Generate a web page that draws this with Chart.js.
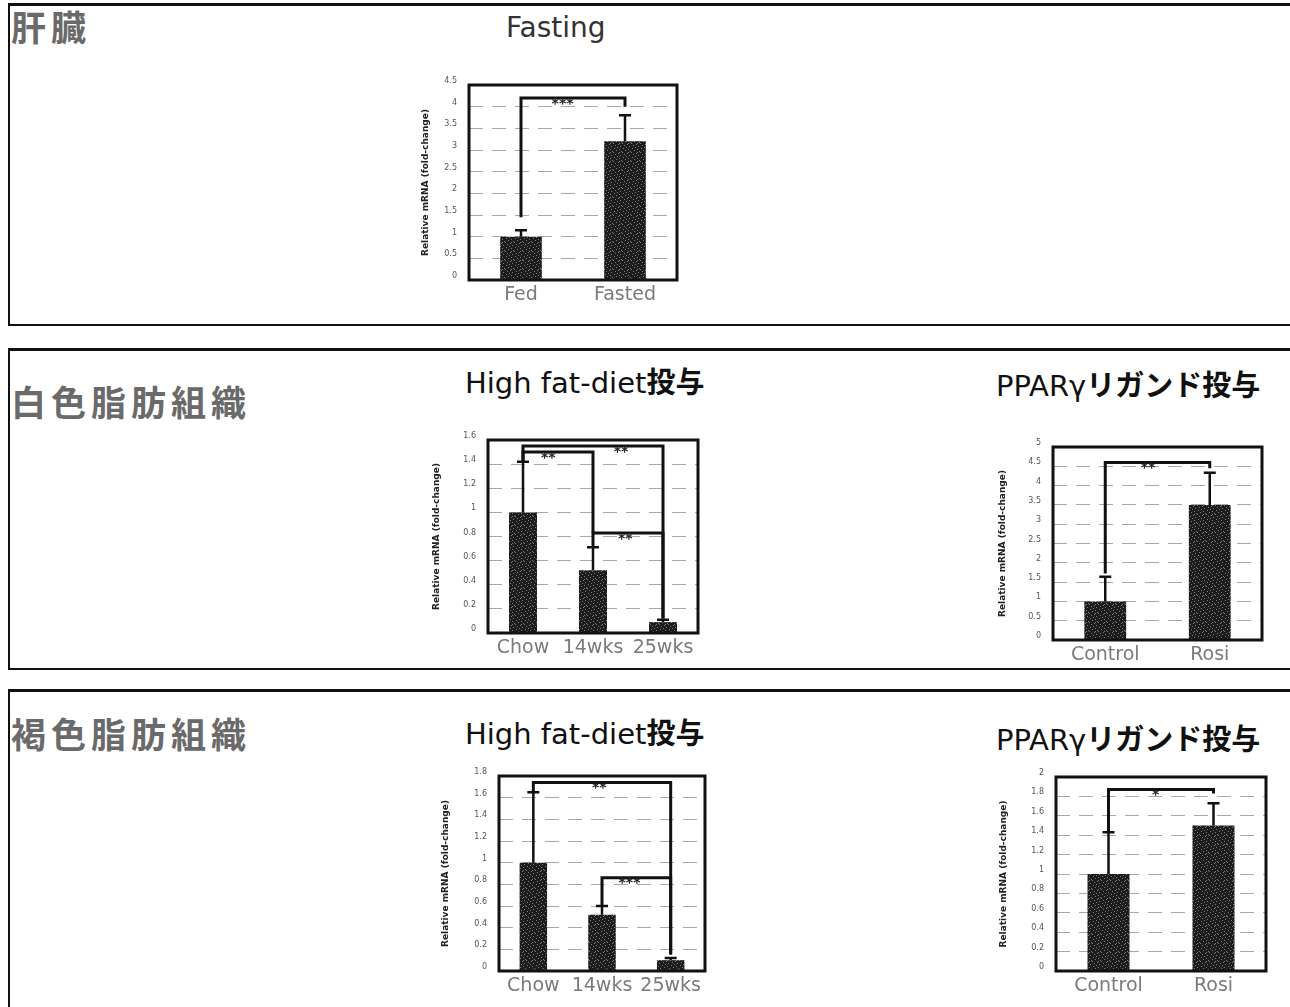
<!DOCTYPE html>
<html>
<head>
<meta charset="utf-8">
<script src="https://cdn.jsdelivr.net/npm/chart.js@4/dist/chart.umd.min.js"></script>
<style>
  html, body { margin: 0; padding: 0; background: #fff; }
  body { position: relative; width: 1290px; height: 1007px; overflow: hidden; font-family: "DejaVu Sans", sans-serif; }
  .panel { position: absolute; left: 8px; width: 1300px; box-sizing: border-box;
           border: 2px solid #111; border-top-width: 3px; border-right: none; }
  .tissue { position: absolute; left: 11px; font-family: "Noto Sans CJK JP", sans-serif; font-weight: 700;
            font-size: 35px; letter-spacing: 5px; line-height: 1; color: #6a6a6a; white-space: nowrap; }
  .title { position: absolute; font-size: 29px; line-height: 1; color: #111; white-space: nowrap; }
  .title b { font-family: "Noto Sans CJK JP", sans-serif; font-weight: 700; }
  canvas { position: absolute; }
</style>
</head>
<body>
  <div class="panel" style="top:3px;height:323px;"></div>
  <div class="panel" style="top:348px;height:322px;"></div>
  <div class="panel" style="top:689px;height:330px;"></div>

  <div class="tissue" style="top:8px;">肝臓</div>
  <div class="tissue" style="top:383px;">白色脂肪組織</div>
  <div class="tissue" style="top:715px;">褐色脂肪組織</div>

  <div class="title" style="left:506px;top:14px;color:#333;font-size:28px;">Fasting</div>
  <div class="title" style="left:465px;top:366px;">High fat-diet<b>投与</b></div>
  <div class="title" style="left:996px;top:369px;">PPARγ<b>リガンド投与</b></div>
  <div class="title" style="left:465px;top:717px;">High fat-diet<b>投与</b></div>
  <div class="title" style="left:996px;top:723px;">PPARγ<b>リガンド投与</b></div>

  <canvas id="livFast"></canvas>
  <canvas id="watHfd"></canvas>
  <canvas id="watPpar"></canvas>
  <canvas id="batHfd"></canvas>
  <canvas id="batPpar"></canvas>

<script>
// ---- data: liver, fasting ----
const fastingCats  = ['Fed', 'Fasted'];
const fastingVals  = [1.0, 3.2];
const fastingErr   = [0.15, 0.6];
const fastingTicks = [0, 0.5, 1, 1.5, 2, 2.5, 3, 3.5, 4, 4.5];
// bracket: [from, to, bracket height, left leg end, right leg end, mark, mark position (category units)]
const fastingSig   = [[0, 1, 4.2, 1.45, 4.0, '***', 0.4]];

// ---- data: white adipose tissue ----
const hfdCats      = ['Chow', '14wks', '25wks'];
const watHfdVals   = [1.0, 0.52, 0.09];
const watHfdErr    = [0.42, 0.19, 0.02];
const watHfdTicks  = [0, 0.2, 0.4, 0.6, 0.8, 1, 1.2, 1.4, 1.6];
const watHfdSig    = [[0, 1, 1.50, 1.42, 0.83, '**', 0.36],
                      [0, 2, 1.55, 1.42, 0.12, '**', 1.4],
                      [1, 2, 0.83, 0.72, 0.12, '**', 1.46]];

const pparCats     = ['Control', 'Rosi'];
const watPparVals  = [1.0, 3.5];
const watPparErr   = [0.64, 0.83];
const watPparTicks = [0, 0.5, 1, 1.5, 2, 2.5, 3, 3.5, 4, 4.5, 5];
const watPparSig   = [[0, 1, 4.6, 1.72, 4.45, '**', 0.41]];

// ---- data: brown adipose tissue ----
const batHfdVals   = [1.0, 0.52, 0.1];
const batHfdErr    = [0.65, 0.08, 0.02];
const batHfdTicks  = [0, 0.2, 0.4, 0.6, 0.8, 1, 1.2, 1.4, 1.6, 1.8];
const batHfdSig    = [[0, 2, 1.74, 1.65, 0.15, '**', 0.96],
                      [1, 2, 0.86, 0.60, 0.16, '***', 1.4]];

const batPparVals  = [1.0, 1.5];
const batPparErr   = [0.43, 0.23];
const batPparTicks = [0, 0.2, 0.4, 0.6, 0.8, 1, 1.2, 1.4, 1.6, 1.8, 2];
const batPparSig   = [[0, 1, 1.87, 1.43, 1.83, '*', 0.45]];

const yTitle = 'Relative mRNA (fold-change)';

// speckled dark fill for the bars
function makeBarPattern() {
  const c = document.createElement('canvas');
  c.width = 9; c.height = 9;
  const g = c.getContext('2d');
  g.fillStyle = '#1c1c1c';
  g.fillRect(0, 0, 9, 9);
  const specks = [[1,0],[6,1],[3,2],[8,3],[0,4],[5,5],[2,6],[7,7],[4,8],[6,4]];
  g.fillStyle = '#7d7d7d';
  specks.forEach(([x, y]) => g.fillRect(x, y, 1, 1));
  return g.createPattern(c, 'repeat');
}
const barFill = makeBarPattern();

// frame, error bars and significance brackets
const overlay = {
  id: 'overlay',
  afterDatasetsDraw(chart, args, opts) {
    const { ctx, chartArea: a, scales: { x, y } } = chart;
    const meta = chart.getDatasetMeta(0);
    const ds = chart.data.datasets[0];
    ctx.save();
    ctx.strokeStyle = '#111';
    ctx.lineCap = 'butt';

    // error bars (upper only)
    ctx.lineWidth = 2.5;
    ds.data.forEach((v, i) => {
      const bx = meta.data[i].x;
      const y0 = y.getPixelForValue(v);
      const y1 = y.getPixelForValue(v + ds.errors[i]);
      ctx.beginPath();
      ctx.moveTo(bx, y0); ctx.lineTo(bx, y1);
      ctx.moveTo(bx - 6, y1); ctx.lineTo(bx + 6, y1);
      ctx.stroke();
    });

    // brackets
    ctx.lineWidth = 3;
    opts.sig.forEach(([i, j, top, ea, eb]) => {
      const xa = meta.data[i].x, xb = meta.data[j].x;
      const yt = y.getPixelForValue(top);
      ctx.beginPath();
      ctx.moveTo(xa, y.getPixelForValue(ea));
      ctx.lineTo(xa, yt);
      ctx.lineTo(xb, yt);
      ctx.lineTo(xb, y.getPixelForValue(eb));
      ctx.stroke();
    });
    ctx.fillStyle = '#222';
    ctx.font = 'bold 14px "DejaVu Sans"';
    ctx.textAlign = 'center';
    ctx.textBaseline = 'top';
    opts.sig.forEach(([, , top, , , mark, pos]) => {
      ctx.fillText(mark, x.getPixelForValue(pos), y.getPixelForValue(top) - 1);
    });

    // plot frame
    ctx.lineWidth = 3;
    ctx.strokeRect(a.left, a.top, a.right - a.left, a.bottom - a.top);
    ctx.restore();
  }
};

function makeChart(id, box, cats, vals, errs, ticks, sig, titleGap) {
  const padL = 72, padT = 18, padR = 8, padB = 32;
  const cv = document.getElementById(id);
  const w = box.r - box.l + padL + padR;
  const h = box.b - box.t + padT + padB;
  cv.width = w; cv.height = h;
  cv.style.width = w + 'px'; cv.style.height = h + 'px';
  cv.style.left = (box.l - padL) + 'px';
  cv.style.top = (box.t - padT) + 'px';
  const yMax = ticks[ticks.length - 1];
  return new Chart(cv, {
    type: 'bar',
    data: {
      labels: cats,
      datasets: [{ data: vals, errors: errs, backgroundColor: barFill, borderWidth: 0,
                   barPercentage: 0.4, categoryPercentage: 1 }]
    },
    options: {
      responsive: false,
      animation: false,
      devicePixelRatio: 1,
      layout: { padding: { top: padT, right: padR, left: 0, bottom: 0 } },
      plugins: { legend: { display: false }, tooltip: { enabled: false }, overlay: { sig } },
      scales: {
        x: {
          grid: { display: false, drawTicks: false },
          border: { display: false },
          ticks: { color: '#7a7a7a', font: { size: 19, family: 'DejaVu Sans' }, padding: 4,
                   maxRotation: 0, autoSkip: false },
          afterFit(s) { s.height = padB; }
        },
        y: {
          min: 0, max: yMax,
          afterBuildTicks(s) { s.ticks = ticks.map(v => ({ value: v })); },
          ticks: { callback: v => String(v), color: '#555', font: { size: 8, family: 'DejaVu Sans' },
                   padding: 12, labelOffset: -4 },
          grid: {
            drawTicks: false, lineWidth: 1,
            color: c => (c.tick && (c.tick.value === 0 || c.tick.value === yMax)) ? 'rgba(0,0,0,0)' : '#a8a8a8'
          },
          border: { display: false, dash: [14, 9] },
          title: { display: true, text: yTitle, color: '#222',
                   font: { size: 9, weight: 'bold', family: 'DejaVu Sans' },
                   padding: { top: padL - titleGap - 5, bottom: 0 } },
          afterFit(s) { s.width = padL; }
        }
      }
    },
    plugins: [overlay]
  });
}

makeChart('livFast', { l: 469, t: 85, r: 677, b: 280 }, fastingCats, fastingVals, fastingErr, fastingTicks, fastingSig, 44);
makeChart('watHfd',  { l: 488, t: 440, r: 698, b: 633 }, hfdCats, watHfdVals, watHfdErr, watHfdTicks, watHfdSig, 52);
makeChart('watPpar', { l: 1053, t: 447, r: 1262, b: 640 }, pparCats, watPparVals, watPparErr, watPparTicks, watPparSig, 51);
makeChart('batHfd',  { l: 499, t: 776, r: 705, b: 971 }, hfdCats, batHfdVals, batHfdErr, batHfdTicks, batHfdSig, 54);
makeChart('batPpar', { l: 1056, t: 777, r: 1266, b: 971 }, pparCats, batPparVals, batPparErr, batPparTicks, batPparSig, 53);
</script>
</body>
</html>
